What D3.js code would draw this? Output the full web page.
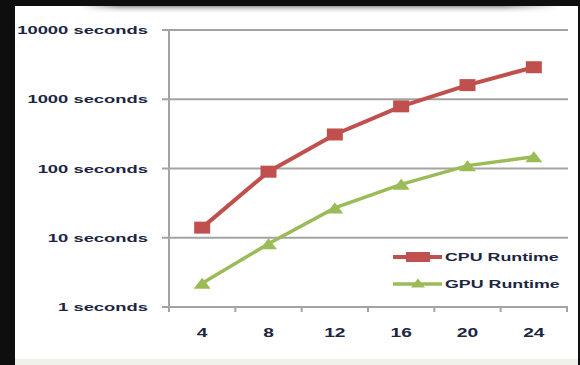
<!DOCTYPE html>
<html><head><meta charset="utf-8">
<script src="https://cdn.jsdelivr.net/npm/d3@7"></script>
<style>
html,body{margin:0;padding:0;background:#0e0e0e;}
svg{display:block;}
text{font-family:"Liberation Sans",Arial,sans-serif;font-weight:bold;fill:#1c2542;}
</style></head>
<body>
<script>
const categories = ["4","8","12","16","20","24"];
const cpuRuntime = [14, 90, 310, 790, 1600, 2900];
const gpuRuntime = [2.2, 8.2, 27, 59, 110, 148];
const yTicks = [1, 10, 100, 1000, 10000];
const yTickLabels = ["1 seconds","10 seconds","100 seconds","1000 seconds","10000 seconds"];
const seriesNames = ["CPU Runtime","GPU Runtime"];

const W = 580, H = 365;
const svg = d3.select("body").append("svg").attr("width", W).attr("height", H);

// panel
svg.append("rect").attr("x",15).attr("y",6).attr("width",563).attr("height",354).attr("fill","#ffffff");
svg.append("rect").attr("x",15).attr("y",359).attr("width",563).attr("height",6).attr("fill","#f1f1ec");
const defs = svg.append("defs");
const g1 = defs.append("linearGradient").attr("id","shadow").attr("x1",0).attr("y1",0).attr("x2",0).attr("y2",1);
g1.append("stop").attr("offset","0%").attr("stop-color","#9a9a9a");
g1.append("stop").attr("offset","100%").attr("stop-color","#ffffff").attr("stop-opacity",0);
const g2 = defs.append("linearGradient").attr("id","shadowH").attr("x1",0).attr("y1",0).attr("x2",1).attr("y2",0);
g2.append("stop").attr("offset","0%").attr("stop-color","#fff").attr("stop-opacity",1);
g2.append("stop").attr("offset","8%").attr("stop-color","#fff").attr("stop-opacity",0);
g2.append("stop").attr("offset","88%").attr("stop-color","#fff").attr("stop-opacity",0);
g2.append("stop").attr("offset","100%").attr("stop-color","#fff").attr("stop-opacity",1);
svg.append("rect").attr("x",80).attr("y",6).attr("width",480).attr("height",8).attr("fill","url(#shadow)");
svg.append("rect").attr("x",80).attr("y",6).attr("width",480).attr("height",8).attr("fill","url(#shadowH)");

const pLeft = 169, pRight = 567, pTop = 30, pBottom = 307;
const x = d3.scaleBand().domain(categories).range([pLeft, pRight]).padding(0);
const y = d3.scaleLog().domain([1, 10000]).range([pBottom, pTop]);

const gridColor = "#a3a3a3";
// gridlines
svg.append("g").selectAll("line").data(yTicks).join("line")
  .attr("x1", pLeft - 7).attr("x2", pRight + 1)
  .attr("y1", d => y(d)).attr("y2", d => y(d))
  .attr("stroke", gridColor).attr("stroke-width", 2);
// y axis line
svg.append("line").attr("x1",pLeft).attr("x2",pLeft).attr("y1",pTop).attr("y2",pBottom+5)
  .attr("stroke",gridColor).attr("stroke-width",2);
// x ticks at band boundaries
const bounds = categories.map(c => x(c)).concat([x(categories[categories.length-1]) + x.bandwidth()]);
svg.append("g").selectAll("line").data(bounds).join("line")
  .attr("x1", d => d).attr("x2", d => d).attr("y1", pBottom).attr("y2", pBottom + 5)
  .attr("stroke", gridColor).attr("stroke-width", 2);

const SX = 1.6;
// y labels
svg.append("g").selectAll("g").data(yTicks).join("g")
  .attr("transform", d => `translate(148,${y(d)}) scale(${SX},1)`)
  .append("text").attr("text-anchor","end").attr("dy","0.35em").attr("font-size",11.5)
  .text((d,i) => yTickLabels[i]);
// x labels
svg.append("g").selectAll("g").data(categories).join("g")
  .attr("transform", d => `translate(${x(d) + x.bandwidth()/2},333) scale(${SX},1)`)
  .append("text").attr("text-anchor","middle").attr("dy","0.35em").attr("font-size",12)
  .text(d => d);

const red = "#c0504d", green = "#9bbb59";
const line = d3.line().x((d,i) => x(categories[i]) + x.bandwidth()/2).y(d => y(d));

svg.append("path").datum(gpuRuntime).attr("d", line).attr("fill","none")
  .attr("stroke", green).attr("stroke-width", 3.5);
svg.append("path").datum(cpuRuntime).attr("d", line).attr("fill","none")
  .attr("stroke", red).attr("stroke-width", 4);

const tri = (cx, cy, w, h) => `M${cx},${cy - h/2}L${cx + w/2},${cy + h/2}L${cx - w/2},${cy + h/2}Z`;
svg.append("g").selectAll("path").data(gpuRuntime).join("path")
  .attr("d", (d,i) => tri(x(categories[i]) + x.bandwidth()/2, y(d), 17, 11))
  .attr("fill", green);
svg.append("g").selectAll("rect").data(cpuRuntime).join("rect")
  .attr("x", (d,i) => x(categories[i]) + x.bandwidth()/2 - 8)
  .attr("y", d => y(d) - 6)
  .attr("width", 16).attr("height", 12).attr("fill", red);

// legend
const legY = [257, 284];
const leg = svg.append("g");
seriesNames.forEach((name, i) => {
  const col = i === 0 ? red : green;
  leg.append("line").attr("x1",393).attr("x2",442).attr("y1",legY[i]).attr("y2",legY[i])
    .attr("stroke",col).attr("stroke-width", i === 0 ? 4 : 3.5);
  if (i === 0) {
    leg.append("rect").attr("x",406).attr("y",legY[i]-5).attr("width",24).attr("height",10).attr("fill",col);
  } else {
    leg.append("path").attr("d", tri(418, legY[i]-1, 14, 9)).attr("fill", col);
  }
  leg.append("g").attr("transform", `translate(445,${legY[i]}) scale(1.55,1)`)
    .append("text").attr("dy","0.35em").attr("font-size",11.5).text(name);
});
</script>
</body></html>
